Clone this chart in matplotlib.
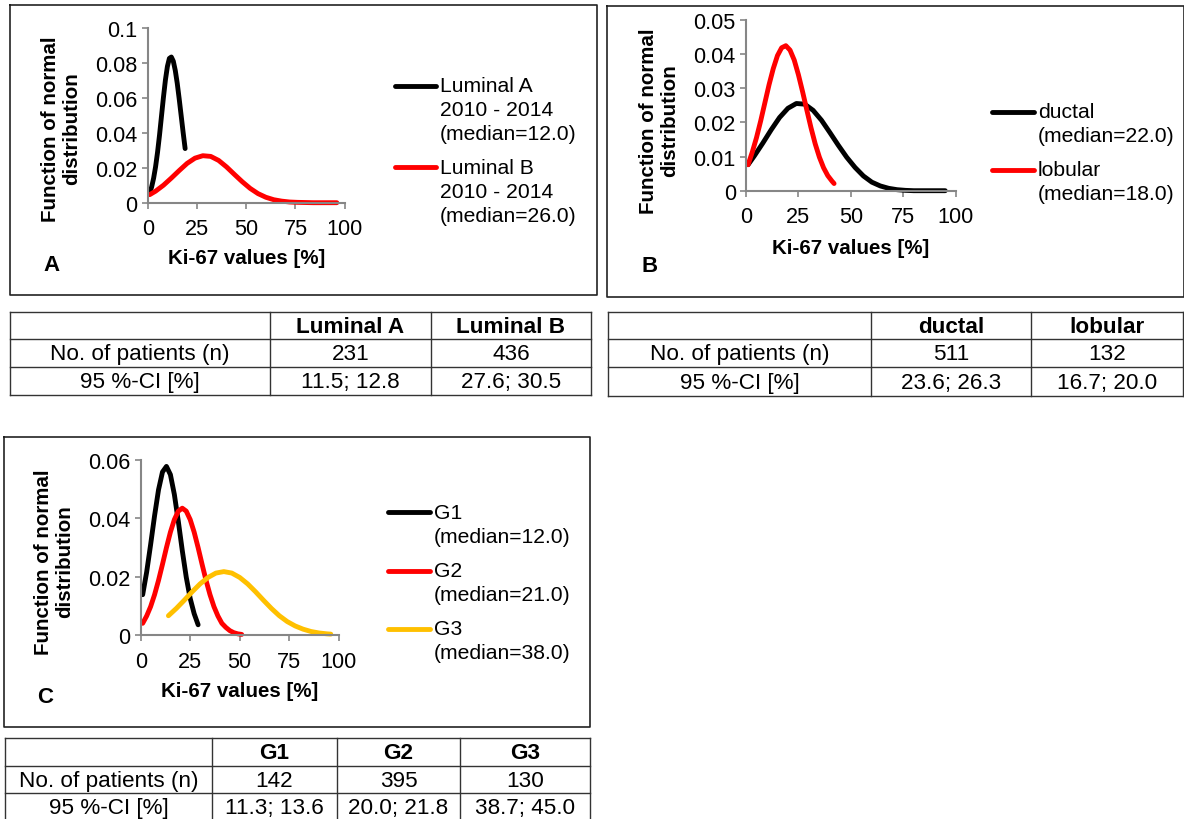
import matplotlib
matplotlib.use('Agg')
import matplotlib.pyplot as plt

plt.rcParams['font.family'] = ['Liberation Sans', 'DejaVu Sans']

# ---- data ----
# panel A
lumA_x = [1, 2, 3, 4, 5, 6, 7, 8, 9, 10, 11, 12, 13, 14, 15, 16, 17, 18, 19]
lumA_y = [0.0056, 0.0090, 0.0140, 0.0206, 0.0289, 0.0387, 0.0496, 0.0604, 0.0703, 0.0780,
          0.0826, 0.0834, 0.0810, 0.0757, 0.0683, 0.0593, 0.0497, 0.0401, 0.0310]
lumB_x = [1, 4, 8, 12, 16, 20, 24, 28, 32, 36, 40, 44, 48, 52, 56, 60, 64, 68, 72, 76, 80, 84, 88, 92, 96]
lumB_y = [0.0046, 0.0066, 0.0100, 0.0141, 0.0184, 0.0225, 0.0255, 0.0269, 0.0265, 0.0242,
          0.0205, 0.0162, 0.0120, 0.0082, 0.0052, 0.0031, 0.0017, 0.0009, 0.0004, 0.0002,
          0.0001, 0.0, 0.0, 0.0, 0.0]
# panel B
duct_x = [1, 4, 8, 12, 16, 20, 24, 28, 32, 36, 40, 44, 48, 52, 56, 60, 64, 68, 72, 76, 80, 84, 88, 92, 95]
duct_y = [0.0076, 0.0102, 0.0139, 0.0178, 0.0214, 0.0241, 0.0255, 0.0253, 0.0235, 0.0206,
          0.0170, 0.0133, 0.0098, 0.0068, 0.0043, 0.0025, 0.0014, 0.0007, 0.0003, 0.0001,
          0.0, 0.0, 0.0, 0.0, 0.0]
lob_x = [1, 3, 5, 7, 9, 11, 13, 15, 17, 19, 21, 23, 25, 27, 29, 31, 33, 35, 37, 39, 41, 42]
lob_y = [0.0076, 0.0113, 0.0155, 0.0204, 0.0257, 0.0310, 0.0357, 0.0395, 0.0418, 0.0424,
         0.0411, 0.0382, 0.0339, 0.0289, 0.0236, 0.0184, 0.0137, 0.0098, 0.0067, 0.0044,
         0.0028, 0.0021]
# panel C
g1_x = [1, 3, 5, 7, 9, 11, 13, 15, 17, 19, 21, 23, 25, 27, 29]
g1_y = [0.0138, 0.0215, 0.0309, 0.0408, 0.0497, 0.0558, 0.0577, 0.0549, 0.0481, 0.0389,
        0.0289, 0.0198, 0.0125, 0.0073, 0.0035]
g2_x = [1, 3, 5, 7, 9, 11, 13, 15, 17, 19, 21, 23, 25, 27, 29, 31, 33, 35, 37, 39, 41, 43, 45, 47, 49, 51]
g2_y = [0.0040, 0.0065, 0.0097, 0.0138, 0.0187, 0.0242, 0.0299, 0.0352, 0.0395, 0.0424,
        0.0434, 0.0424, 0.0395, 0.0352, 0.0299, 0.0242, 0.0187, 0.0138, 0.0097, 0.0065,
        0.0040, 0.0026, 0.0015, 0.0008, 0.0004, 0.0002]
g3_x = [14, 18, 22, 26, 30, 34, 38, 42, 46, 50, 54, 58, 62, 66, 70, 74, 78, 82, 86, 90, 94, 96]
g3_y = [0.0066, 0.0091, 0.0119, 0.0148, 0.0175, 0.0197, 0.0212, 0.0217, 0.0212, 0.0197,
        0.0175, 0.0148, 0.0119, 0.0091, 0.0066, 0.0046, 0.0031, 0.0020, 0.0012, 0.0007,
        0.0004, 0.0003]

names_A = ['Luminal A\n2010 - 2014\n(median=12.0)', 'Luminal B\n2010 - 2014\n(median=26.0)']
names_B = ['ductal\n(median=22.0)', 'lobular\n(median=18.0)']
names_C = ['G1\n(median=12.0)', 'G2\n(median=21.0)', 'G3\n(median=38.0)']

x_ticks = [0, 25, 50, 75, 100]
y_ticks_A = [0, 0.02, 0.04, 0.06, 0.08, 0.1]
y_labels_A = ['0', '0.02', '0.04', '0.06', '0.08', '0.1']
y_ticks_B = [0, 0.01, 0.02, 0.03, 0.04, 0.05]
y_labels_B = ['0', '0.01', '0.02', '0.03', '0.04', '0.05']
y_ticks_C = [0, 0.02, 0.04, 0.06]
y_labels_C = ['0', '0.02', '0.04', '0.06']

row_names = ['No. of patients (n)', '95 %-CI [%]']
tab_A_head = ['Luminal A', 'Luminal B']
tab_A_vals = [['231', '436'], ['11.5; 12.8', '27.6; 30.5']]
tab_B_head = ['ductal', 'lobular']
tab_B_vals = [['511', '132'], ['23.6; 26.3', '16.7; 20.0']]
tab_C_head = ['G1', 'G2', 'G3']
tab_C_vals = [['142', '395', '130'], ['11.3; 13.6', '20.0; 21.8', '38.7; 45.0']]

BLACK = '#000000'
RED = '#FF0000'
GOLD = '#FFC000'
GRAY = '#868686'
FS_TICK = 15.6
FS_LEG = 15.2
FS_LAB = 14.8
FS_TAB = 16.2

W, H = 1184, 820
fig = plt.figure(figsize=(W / 100, H / 100), dpi=100)

# pixel canvas for frames, tables and free text
cv = fig.add_axes([0, 0, 1, 1])
cv.set_xlim(0, W)
cv.set_ylim(H, 0)
cv.axis('off')


def box(x0, y0, x1, y1):
    cv.plot([x0, x1, x1, x0, x0], [y0, y0, y1, y1, y0], color='#222222', lw=1.2)


def panel(l, t, r, b, series, yt, yl, ymax):
    ax = fig.add_axes([l / W, 1 - b / H, (r - l) / W, (b - t) / H])
    ax.set_facecolor('none')
    for xs, ys, c in series:
        ax.plot(xs, ys, color=c, lw=3.5, solid_capstyle='round', clip_on=False)
    ax.set_xlim(0, 100)
    ax.set_ylim(0, ymax)
    ax.set_xticks(x_ticks)
    ax.set_xticklabels([str(v) for v in x_ticks])
    ax.set_yticks(yt)
    ax.set_yticklabels(yl)
    for s in ['top', 'right']:
        ax.spines[s].set_visible(False)
    for s in ['left', 'bottom']:
        ax.spines[s].set_color(GRAY)
        ax.spines[s].set_linewidth(1.5)
    ax.tick_params(axis='both', colors=GRAY, labelcolor='black', labelsize=FS_TICK,
                   length=4.3, width=1.2, direction='out')
    ax.tick_params(axis='x', pad=7)
    ax.tick_params(axis='y', pad=3)
    return ax


def legend(x_line0, x_line1, x_text, ys, names, colors):
    for y, name, c in zip(ys, names, colors):
        cv.plot([x_line0, x_line1], [y, y], color=c, lw=3.5, solid_capstyle='round')
        for i, part in enumerate(name.split('\n')):
            cv.text(x_text, y + i * 24, part, fontsize=FS_LEG, va='center', ha='left')


def labels(xl_x, xl_y, yl_x, yl_y, letter, lx, ly):
    cv.text(xl_x, xl_y, 'Ki-67 values [%]', fontsize=FS_LAB, fontweight='bold',
            ha='center', va='center')
    cv.text(yl_x, yl_y, 'Function of normal\ndistribution', fontsize=FS_LAB,
            fontweight='bold', rotation=90, ha='center', va='center',
            multialignment='center', linespacing=1.15)
    cv.text(lx, ly, letter, fontsize=16, fontweight='bold', ha='center', va='center')


def table(cols, rows, head, vals):
    for x in cols:
        cv.plot([x, x], [rows[0], rows[-1]], color='#333333', lw=1.0)
    for y in rows:
        cv.plot([cols[0], cols[-1]], [y, y], color='#333333', lw=1.0)
    for j, h in enumerate(head):
        cv.text((cols[j + 1] + cols[j + 2]) / 2, (rows[0] + rows[1]) / 2 + 1, h,
                fontsize=FS_TAB, fontweight='bold', ha='center', va='center')
    for i, rn in enumerate(row_names):
        yc = (rows[i + 1] + rows[i + 2]) / 2 + 1
        cv.text((cols[0] + cols[1]) / 2, yc, rn, fontsize=FS_TAB, ha='center', va='center')
        for j, v in enumerate(vals[i]):
            cv.text((cols[j + 1] + cols[j + 2]) / 2, yc, v, fontsize=FS_TAB,
                    ha='center', va='center')


# ---- panel A ----
box(9.6, 6, 596.5, 295.5)
panel(147.7, 29, 344.7, 203.7,
      [(lumA_x, lumA_y, BLACK), (lumB_x, lumB_y, RED)], y_ticks_A, y_labels_A, 0.1)
legend(395, 436, 440, [87, 168], names_A, [BLACK, RED])
labels(247, 259, 61, 129, 'A', 52, 266)

# ---- panel B ----
box(607, 6.5, 1183.5, 297.5)
panel(746, 20.7, 955.7, 191.7,
      [(duct_x, duct_y, BLACK), (lob_x, lob_y, RED)], y_ticks_B, y_labels_B, 0.05)
legend(992, 1034, 1038, [112.7, 171], names_B, [BLACK, RED])
labels(851, 249, 659, 121, 'B', 650, 267)

# ---- panel C ----
box(3.5, 438, 589.5, 727.5)
panel(140.7, 460.7, 338.7, 636,
      [(g1_x, g1_y, BLACK), (g2_x, g2_y, RED), (g3_x, g3_y, GOLD)],
      y_ticks_C, y_labels_C, 0.06)
legend(388, 430, 434, [513.3, 571.7, 630], names_C, [BLACK, RED, GOLD])
labels(240, 692, 54, 562, 'C', 45, 698)

# ---- tables ----
table([9.6, 270, 431, 591], [313, 340, 368, 396], tab_A_head, tab_A_vals)
table([608, 871, 1031, 1183], [313, 340, 368, 396.5], tab_B_head, tab_B_vals)
table([5, 212, 337, 460, 590], [739, 766.7, 794, 821], tab_C_head, tab_C_vals)

fig.savefig('out.png', dpi=100)
